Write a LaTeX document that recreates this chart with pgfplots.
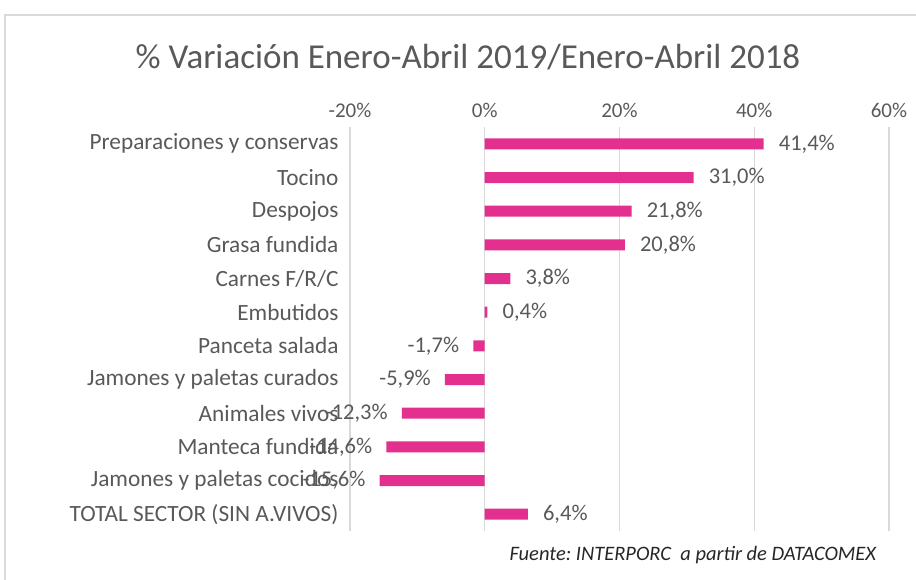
\documentclass[border=0pt]{standalone}
\usepackage{pgfplots}
\pgfplotsset{compat=1.18}
\usepackage{pgfplotstable}
\usepackage{fontspec}
\setmainfont{Carlito}
\frenchspacing
\definecolor{barpink}{HTML}{E3308F}
\definecolor{txtgray}{HTML}{595959}
\definecolor{gridgray}{HTML}{D9D9D9}
\pgfplotstableread[col sep=comma]{
y,x,lab
0,41.4,{41,4\%}
1,31.0,{31,0\%}
2,21.8,{21,8\%}
3,20.8,{20,8\%}
4,3.8,{3,8\%}
5,0.4,{0,4\%}
11,6.4,{6,4\%}
}\pos
\pgfplotstableread[col sep=comma]{
y,x,lab
6,-1.7,{-1,7\%}
7,-5.9,{-5,9\%}
8,-12.3,{-12,3\%}
9,-14.6,{-14,6\%}
10,-15.6,{-15,6\%}
}\neg
\begin{document}
\begin{tikzpicture}[x=1pt,y=1pt]
\path[use as bounding box] (0,0) rectangle (916,579);
\draw[gridgray, line width=1.2pt] (5,-20) -- (5,564) -- (940,564);
\node[txtgray, font=\fontsize{35}{40}\selectfont] at (468,522) {\% Variación Enero-Abril 2019/Enero-Abril 2018};
\begin{axis}[
  at={(350pt,48pt)}, anchor=south west,
  width=539pt, height=404pt, scale only axis,
  xmin=-20, xmax=60, ymin=-0.5, ymax=11.5, y dir=reverse,
  axis line style={draw=none},
  xtick={-20,0,20,40,60},
  xticklabels={-20\%,0\%,20\%,40\%,60\%},
  xticklabel pos=upper,
  xmajorgrids, major grid style={gridgray, line width=1.2pt},
  ytick={0,...,11},
  yticklabels={Preparaciones y conservas,Tocino,Despojos,Grasa fundida,Carnes F/R/C,Embutidos,Panceta salada,Jamones y paletas curados,Animales vivos,Manteca fundida,Jamones y paletas cocidos,TOTAL SECTOR (SIN A.VIVOS)},
  major tick length=0pt,
  xticklabel style={txtgray, font=\fontsize{21}{24}\selectfont, yshift=6pt},
  yticklabel style={txtgray, font=\fontsize{23.3}{26}\selectfont, xshift=-8pt},
  xbar, bar width=11pt, bar shift=0pt,
  point meta=explicit symbolic,
  nodes near coords,
  every node near coord/.append style={txtgray, font=\fontsize{22.5}{26}\selectfont, inner sep=0pt},
  clip=false,
]
\addplot[fill=barpink, draw=none, nodes near coords style={anchor=west, xshift=15pt}] table[x=x, y=y, meta=lab] {\pos};
\addplot[fill=barpink, draw=none, nodes near coords style={anchor=east, xshift=-14pt}] table[x=x, y=y, meta=lab] {\neg};
\end{axis}
\node[anchor=west, font=\fontsize{20.5}{24}\selectfont\itshape, text=black!85] at (506,24) {Fuente: INTERPORC\ \ a partir de DATACOMEX};
\end{tikzpicture}
\end{document}
